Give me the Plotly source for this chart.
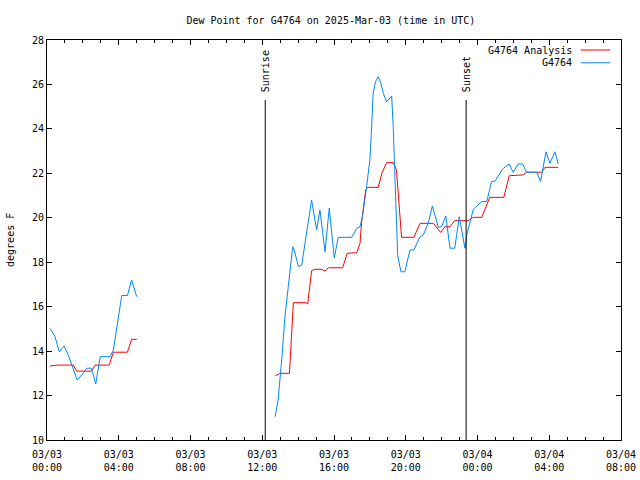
import plotly.graph_objects as go

DAY1 = "2025-03-03 "
DAY2 = "2025-03-04 "

# Observed dew point (G4764)
obs_times = [
    DAY1 + t for t in ["00:10", "00:27", "00:41", "00:57", "01:11", "01:41", "02:01", "02:13", "02:29",
                       "02:43", "02:58", "03:31", "03:42", "04:10", "04:29", "04:43", "05:00"]
] + [None] + [
    DAY1 + t for t in ["12:43", "12:53", "13:05", "13:16", "13:27", "13:42", "13:47", "14:01", "14:12",
                       "14:26", "14:45", "15:02", "15:13", "15:30", "15:44", "16:01", "16:14", "16:59",
                       "17:16", "17:27", "17:35", "17:49", "18:00", "18:06", "18:11", "18:19", "18:28",
                       "18:37", "18:45", "18:56", "19:13", "19:18", "19:24", "19:33", "19:44", "19:57",
                       "20:14", "20:27", "20:48", "20:59", "21:15", "21:29", "21:49", "22:00", "22:14",
                       "22:28", "22:44", "22:59", "23:18", "23:24", "23:46"]
] + [
    DAY2 + t for t in ["00:14", "00:31", "00:47", "00:58", "01:26", "01:46", "01:59", "02:16", "02:31",
                       "02:44", "03:18", "03:31", "03:38", "03:49", "04:02", "04:19", "04:30"]
]
obs_values = [
    15.03, 14.65, 13.97, 14.23, 13.83, 12.70, 13.00, 13.23, 13.23,
    12.52, 13.75, 13.75, 14.05, 16.50, 16.50, 17.20, 16.45,
] + [None] + [
    11.05, 11.80, 13.60, 15.55, 16.90, 18.70, 18.55, 17.80, 17.88,
    19.07, 20.80, 19.45, 20.35, 18.47, 20.43, 18.20, 19.12, 19.12,
    19.52, 19.60, 20.05, 21.40, 22.60, 24.10, 25.60, 26.13, 26.35,
    26.05, 25.60, 25.22, 25.48, 24.10, 21.40, 18.30, 17.57, 17.57,
    18.55, 18.55, 19.15, 19.23, 19.75, 20.53, 19.57, 19.60, 20.08,
    18.63, 18.63, 20.05, 18.63, 19.23, 20.38,
    20.73, 20.73, 21.63, 21.65, 22.22, 22.42, 22.05, 22.42, 22.42,
    22.05, 22.05, 21.63, 22.15, 22.97, 22.45, 22.97, 22.42,
]

# Analysis dew point (G4764 Analysis)
ana_times = [
    DAY1 + t for t in ["00:10", "00:32", "01:28", "01:39", "02:29", "02:41", "03:28", "03:42", "04:29",
                       "04:43", "05:00"]
] + [None] + [
    DAY1 + t for t in ["12:43", "12:59", "13:31", "13:44", "14:26", "14:32", "14:45", "14:56", "15:19",
                       "15:30", "15:41", "16:29", "16:44", "17:16", "17:27", "17:32", "17:46", "17:52",
                       "18:28", "18:40", "18:56", "19:18", "19:29", "19:41", "19:46", "20:27", "20:48",
                       "21:32", "21:57", "22:11", "22:28", "22:44", "23:29", "23:46"]
] + [
    DAY2 + t for t in ["00:14", "00:41", "01:28", "01:46", "02:33", "02:44", "03:34", "03:46", "04:30"]
]
ana_values = [
    13.33, 13.37, 13.37, 13.10, 13.10, 13.37, 13.37, 13.95, 13.95, 14.53, 14.53,
] + [None] + [
    12.88, 13.00, 13.00, 16.18, 16.18, 16.12, 17.62, 17.68, 17.68,
    17.60, 17.75, 17.75, 18.40, 18.43, 18.85, 19.75, 21.25, 21.37,
    21.37, 22.00, 22.48, 22.48, 22.15, 20.02, 19.12, 19.12, 19.75,
    19.75, 19.34, 19.60, 19.60, 19.87, 19.87, 20.02,
    20.02, 20.92, 20.92, 21.89, 21.93, 22.05, 22.05, 22.27, 22.27,
]

sun_events = ["Sunrise", "Sunset"]
sun_times = [DAY1 + "12:10", DAY1 + "23:22"]
sun_line_top = 25.3

x_range = [DAY1 + "00:00", DAY2 + "08:00"]
y_range = [10, 28]

FONT = "DejaVu Sans Mono"
RED = "#ff0000"
BLUE = "#0088ff"

fig = go.Figure()
fig.add_trace(go.Scatter(x=ana_times, y=ana_values, mode="lines", name="G4764 Analysis",
                         line=dict(color=RED, width=1), connectgaps=False))
fig.add_trace(go.Scatter(x=obs_times, y=obs_values, mode="lines", name="G4764",
                         line=dict(color=BLUE, width=1), connectgaps=False))

for name, t in zip(sun_events, sun_times):
    fig.add_shape(type="line", xref="x", yref="y", x0=t, x1=t, y0=y_range[0], y1=sun_line_top,
                  line=dict(color="black", width=1), layer="above")
    fig.add_annotation(x=t, xref="x", y=0.865, yref="paper", text=name, textangle=-90,
                       showarrow=False, xanchor="center", yanchor="bottom",
                       font=dict(family=FONT, size=10, color="black"))

# legend drawn manually (text right, sample on the right side like gnuplot)
legend_items = [("G4764 Analysis", RED, 0.975), ("G4764", BLUE, 0.943)]
for label, col, yp in legend_items:
    fig.add_annotation(x=0.918, xref="paper", y=yp, yref="paper", text=label, showarrow=False,
                       xanchor="right", yanchor="middle", font=dict(family=FONT, size=10, color="black"))
    fig.add_shape(type="line", xref="paper", yref="paper", x0=0.930, x1=0.981, y0=yp, y1=yp,
                  line=dict(color=col, width=1))

fig.add_annotation(x=-0.0645, xref="paper", y=0.5, yref="paper", text="degrees F", textangle=-90,
                   showarrow=False, xanchor="center", yanchor="middle",
                   font=dict(family=FONT, size=10, color="black"))

fig.update_layout(
    width=640, height=480,
    margin=dict(l=47, r=19, t=40, b=40, autoexpand=False),
    paper_bgcolor="white", plot_bgcolor="white",
    showlegend=False,
    hovermode=False,
    font=dict(family=FONT, size=10, color="black"),
    title=dict(text="Dew Point for G4764 on 2025-Mar-03 (time in UTC)", x=0.517, xanchor="center",
               y=(480 - 20) / 480, yanchor="middle", font=dict(family=FONT, size=10, color="black")),
    xaxis=dict(range=x_range, type="date", dtick=4 * 3600 * 1000, tick0=x_range[0],
               tickformat="%m/%d<br>%H:%M", ticks="inside", ticklen=5, tickcolor="black",
               ticklabelstandoff=5, automargin=False,
               showline=True, linecolor="black", linewidth=1, mirror="allticks", showgrid=False,
               zeroline=False,
               minor=dict(dtick=3600 * 1000, ticks="inside", ticklen=3, tickcolor="black", showgrid=False)),
    yaxis=dict(range=y_range, dtick=2, ticks="inside", ticklen=5, tickcolor="black", automargin=False,
               showline=True, linecolor="black", linewidth=1, mirror="allticks", showgrid=False,
               zeroline=False),
)

# remove the browser's default 8px body margin so the 640x480 figure fills the window exactly
fig.write_html("out.html", config={"displayModeBar": False},
               post_script="document.body.style.margin='0';document.body.style.overflow='hidden';")
